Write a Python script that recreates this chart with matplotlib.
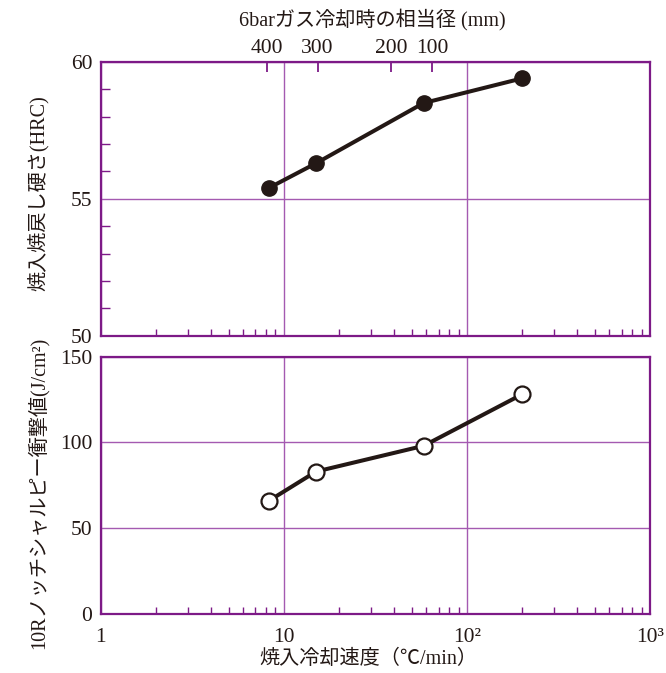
import matplotlib
matplotlib.use("Agg")
import matplotlib.pyplot as plt
from matplotlib.ticker import LogLocator, NullFormatter, FixedLocator, MultipleLocator

plt.rcParams["font.family"] = ["Liberation Serif", "Noto Sans CJK JP", "DejaVu Sans"]

# cooling rate (°C/min) and measured properties
rate = [8.3, 15, 58, 200]
hardness = [55.4, 56.3, 58.5, 59.4]
impact = [66, 83, 98, 128]

# equivalent diameter for 6 bar gas quench, placed on the cooling-rate scale
diam_rate = [8.1, 15.3, 38.4, 64.6]
diam_labels = ["400", "300", "200", "100"]

x_ticks = [1, 10, 100, 1000]
x_ticklabels = ["1", "10", "10²", "10³"]

frame = "#7d1a87"
grid = "#a45ab1"
ink = "#231815"
fs = 15.5
fs_lab = 14.5

fig = plt.figure(figsize=(6.66, 6.73), dpi=100)
ax_h = fig.add_axes((0.1512, 0.5012, 0.8248, 0.4067))
ax_i = fig.add_axes((0.1512, 0.0877, 0.8248, 0.3824))


def style(ax):
    ax.set_xscale("log")
    ax.set_xlim(1, 1000)
    ax.xaxis.set_major_locator(FixedLocator(x_ticks))
    ax.xaxis.set_minor_locator(LogLocator(base=10, subs=range(2, 10)))
    ax.xaxis.set_minor_formatter(NullFormatter())
    ax.grid(True, which="major", color=grid, lw=1.0, zorder=0)
    ax.set_axisbelow(True)
    for s in ax.spines.values():
        s.set_color(frame)
        s.set_linewidth(1.6)
    ax.tick_params(which="major", length=0, labelsize=fs, labelcolor=ink, pad=6)
    ax.tick_params(axis="x", which="minor", direction="in", length=5,
                   width=1.0, color=frame, bottom=True, top=False)


style(ax_h)
ax_h.set_ylim(50, 60)
ax_h.set_yticks([50, 55, 60])
ax_h.yaxis.set_minor_locator(MultipleLocator(1))
ax_h.tick_params(axis="y", which="minor", direction="in", length=6.5,
                 width=1.0, color=frame, left=True, right=False)
ax_h.tick_params(axis="x", which="major", labelbottom=False)
ax_h.plot(rate, hardness, color=ink, lw=2.9, marker="o", ms=11,
          mfc=ink, mec=ink, zorder=3)

# equivalent diameter scale along the top
ax_d = ax_h.twiny()
ax_d.set_xscale("log")
ax_d.set_xlim(1, 1000)
ax_d.xaxis.set_major_locator(FixedLocator(diam_rate))
ax_d.set_xticklabels(diam_labels)
ax_d.xaxis.set_minor_locator(FixedLocator([]))
ax_d.tick_params(axis="x", which="major", direction="in", length=7, width=1.3,
                 color=frame, labelsize=fs, labelcolor=ink, pad=3)
for s in ax_d.spines.values():
    s.set_visible(False)

style(ax_i)
ax_i.set_ylim(0, 150)
ax_i.set_yticks([0, 50, 100, 150])
ax_i.set_xticklabels(x_ticklabels)
ax_i.tick_params(axis="x", which="major", pad=10)
ax_i.plot(rate, impact, color=ink, lw=2.9, marker="o", ms=11.5,
          mfc="white", mec=ink, mew=1.6, zorder=3)

fig.text(372 / 666, 1 - 20 / 673, "6barガス冷却時の相当径 (mm)", ha="center",
         va="center", fontsize=fs_lab, color=ink)
fig.text(368 / 666, 1 - 659 / 673, "焼入冷却速度（℃/min）", ha="center",
         va="center", fontsize=fs_lab, color=ink)
fig.text(38 / 666, 1 - 193 / 673, "焼入焼戻し硬さ(HRC)", ha="center",
         va="center", rotation=90, fontsize=fs_lab, color=ink)
fig.text(38 / 666, 1 - 493 / 673, "10Rノッチシャルピー衝撃値(J/cm²)", ha="center",
         va="center", rotation=90, fontsize=fs_lab, color=ink)

fig.savefig("out.png", dpi=100)
